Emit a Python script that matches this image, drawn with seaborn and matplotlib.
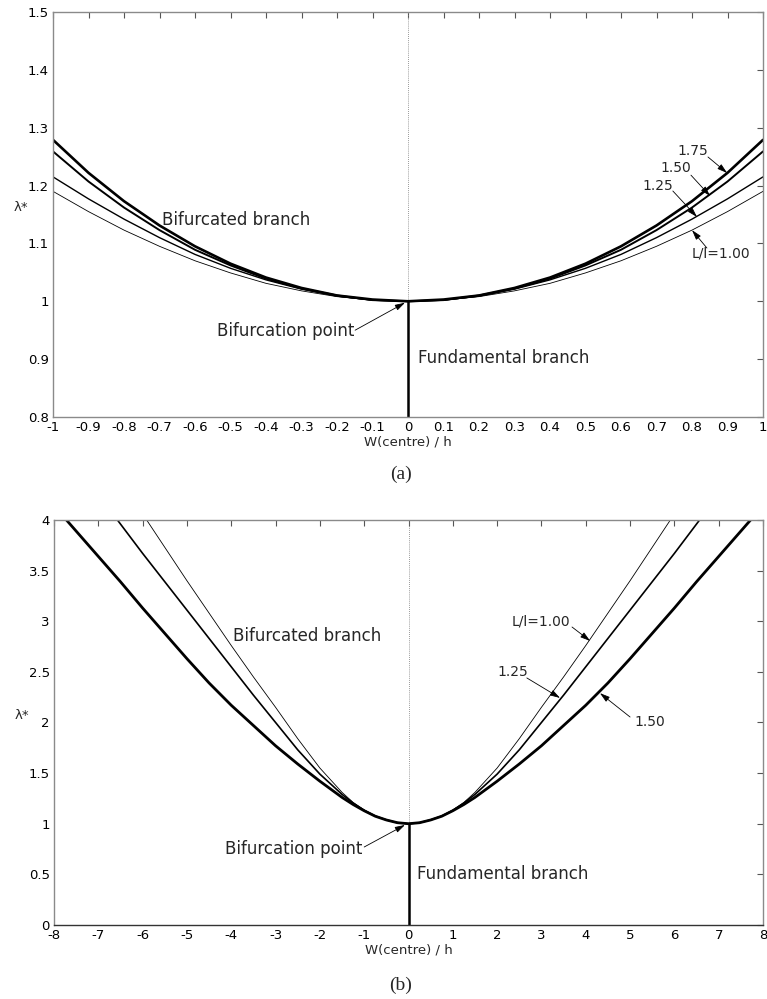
import numpy as np
import pandas as pd
import matplotlib
matplotlib.use("Agg")
import matplotlib.pyplot as plt
import seaborn as sns

sns.set_style("white")
plt.rcParams["font.family"] = ["DejaVu Sans"]

# ---- panel (a): small deflections, W/h in [0, 1] (curves are symmetric) ----
w_a = [0.0, 0.1, 0.2, 0.3, 0.4, 0.5, 0.6, 0.7, 0.8, 0.9, 1.0]
lam_a_100 = [1.0, 1.002, 1.008, 1.018, 1.031, 1.049, 1.070, 1.095, 1.123, 1.155, 1.190]
lam_a_125 = [1.0, 1.002, 1.009, 1.021, 1.037, 1.057, 1.081, 1.110, 1.142, 1.177, 1.215]
lam_a_150 = [1.0, 1.002, 1.010, 1.022, 1.039, 1.062, 1.089, 1.123, 1.162, 1.207, 1.259]
lam_a_175 = [1.0, 1.003, 1.010, 1.023, 1.041, 1.065, 1.095, 1.131, 1.173, 1.222, 1.279]

# ---- panel (b): large deflections, W/h in [0, 8] ----
w_b = [0.0, 0.25, 0.5, 0.75, 1.0, 1.25, 1.5, 2.0, 2.5, 3.0, 3.5, 4.0,
       4.5, 5.0, 5.5, 6.0, 6.5, 7.0, 7.5, 8.0]
lam_b_100 = [1.0, 1.010, 1.038, 1.076, 1.135, 1.21, 1.31, 1.55, 1.84, 2.15,
             2.45, 2.76, 3.08, 3.40, 3.73, 4.06, 4.40, 4.75, 5.10, 5.45]
lam_b_125 = [1.0, 1.010, 1.038, 1.076, 1.133, 1.205, 1.29, 1.49, 1.73, 2.00,
             2.27, 2.55, 2.83, 3.11, 3.39, 3.67, 3.96, 4.25, 4.55, 4.85]
lam_b_150 = [1.0, 1.010, 1.037, 1.074, 1.128, 1.19, 1.26, 1.42, 1.59, 1.77,
             1.97, 2.17, 2.39, 2.63, 2.88, 3.13, 3.39, 3.64, 3.89, 4.14]

ratios_a = ["1.00", "1.25", "1.50", "1.75"]
widths_a = [0.6, 1.0, 1.4, 1.9]
ratios_b = ["1.00", "1.25", "1.50"]
widths_b = [0.6, 1.2, 2.0]

xticks_a = [-1, -0.9, -0.8, -0.7, -0.6, -0.5, -0.4, -0.3, -0.2, -0.1, 0,
            0.1, 0.2, 0.3, 0.4, 0.5, 0.6, 0.7, 0.8, 0.9, 1]
yticks_a = [0.8, 0.9, 1.0, 1.1, 1.2, 1.3, 1.4, 1.5]
xticks_b = list(range(-8, 9))
yticks_b = [0, 0.5, 1, 1.5, 2, 2.5, 3, 3.5, 4]


def mirrored(w, lam):
    w = np.asarray(w)
    lam = np.asarray(lam)
    return np.concatenate([-w[::-1], w[1:]]), np.concatenate([lam[::-1], lam[1:]])


def frame(series):
    rows = []
    for ratio, (w, lam) in series.items():
        ww, ll = mirrored(w, lam)
        rows.append(pd.DataFrame({"W": ww, "lam": ll, "ratio": ratio}))
    return pd.concat(rows, ignore_index=True)


data_a = frame({"1.00": (w_a, lam_a_100), "1.25": (w_a, lam_a_125),
                "1.50": (w_a, lam_a_150), "1.75": (w_a, lam_a_175)})
data_b = frame({"1.00": (w_b, lam_b_100), "1.25": (w_b, lam_b_125),
                "1.50": (w_b, lam_b_150)})


def style_axes(ax, xticks, yticks, xlim, ylim):
    ax.set_xlim(*xlim)
    ax.set_ylim(*ylim)
    ax.set_xticks(xticks)
    ax.set_yticks(yticks)
    ax.set_xticklabels(["%g" % v for v in xticks])
    ax.set_yticklabels(["%g" % v for v in yticks])
    ax.tick_params(direction="in", length=4, width=0.8, color="#555555",
                   labelsize=9.5, top=True, right=True, pad=3,
                   labelcolor="black")
    for sp in ax.spines.values():
        sp.set_color("#8a8a8a")
        sp.set_linewidth(1.0)
    ax.set_xlabel("W(centre) / h", fontsize=9.5, labelpad=1)
    ax.set_ylabel("λ*", fontsize=9.5, rotation=0, labelpad=14)
    ax.yaxis.set_label_coords(-0.045, 0.5)


def pointer(ax, label, text_xy, start, tip, ha="center", size=10):
    ax.text(*text_xy, label, fontsize=size, ha=ha, va="center")
    ax.annotate("", xy=tip, xytext=start,
                arrowprops=dict(arrowstyle="-|>,head_length=0.6,head_width=0.18",
                                color="black", lw=0.6, shrinkA=0, shrinkB=0))


fig = plt.figure(figsize=(7.67, 9.99), dpi=100)
ax_a = fig.add_axes([0.0691, 0.5826, 0.9257, 0.4054])
ax_b = fig.add_axes([0.0704, 0.0741, 0.9244, 0.4054])

TXT = 12

# ---------------- panel (a) ----------------
ax = ax_a
ax.plot([0, 0], [1.0, 1.5], ls=(0, (1, 1.5)), lw=0.6, color="#777777")
for ratio, lw in zip(ratios_a, widths_a):
    sub = data_a[data_a["ratio"] == ratio]
    sns.lineplot(data=sub, x="W", y="lam", ax=ax, color="black", lw=lw,
                 sort=False, estimator=None)
ax.plot([0, 0], [0.8, 1.0], color="black", lw=1.8)
style_axes(ax, xticks_a, yticks_a, (-1, 1), (0.8, 1.5))

ax.text(-0.485, 1.140, "Bifurcated branch", fontsize=TXT, ha="center", va="center")
ax.text(0.028, 0.902, "Fundamental branch", fontsize=TXT, ha="left", va="center")
pointer(ax, "Bifurcation point", (-0.152, 0.9486), (-0.149, 0.950),
        (-0.0085, 0.9975), ha="right", size=TXT)
pointer(ax, "1.75", (0.803, 1.2597), (0.845, 1.2494), (0.899, 1.2217))
pointer(ax, "1.50", (0.7535, 1.2295), (0.797, 1.218), (0.851, 1.182))
pointer(ax, "1.25", (0.704, 1.200), (0.746, 1.1906), (0.814, 1.1457))
pointer(ax, "L/l=1.00", (0.80, 1.0834), (0.842, 1.092), (0.80, 1.123), ha="left")

# ---------------- panel (b) ----------------
ax = ax_b
ax.plot([0, 0], [1.0, 4.0], ls=(0, (1, 1.5)), lw=0.6, color="#777777")
for ratio, lw in zip(ratios_b, widths_b):
    sub = data_b[data_b["ratio"] == ratio]
    sns.lineplot(data=sub, x="W", y="lam", ax=ax, color="black", lw=lw,
                 sort=False, estimator=None)
ax.plot([0, 0], [0.0, 1.0], color="black", lw=1.8)
style_axes(ax, xticks_b, yticks_b, (-8, 8), (0, 4))
ax.spines["bottom"].set_color("#333333")

ax.text(-2.29, 2.854, "Bifurcated branch", fontsize=TXT, ha="center", va="center")
ax.text(0.19, 0.504, "Fundamental branch", fontsize=TXT, ha="left", va="center")
pointer(ax, "Bifurcation point", (-1.03, 0.75), (-1.0, 0.77), (-0.08, 0.988),
        ha="right", size=TXT)
pointer(ax, "L/l=1.00", (2.99, 3.0), (3.69, 2.943), (4.10, 2.805))
pointer(ax, "1.25", (2.35, 2.494), (2.67, 2.44), (3.42, 2.242))
pointer(ax, "1.50", (5.45, 2.0), (5.0, 2.054), (4.32, 2.29))

fig.text(0.5225, 0.525, "(a)", fontsize=14, family="Liberation Serif",
         ha="center", va="center")
fig.text(0.5225, 0.014, "(b)", fontsize=14, family="Liberation Serif",
         ha="center", va="center")

fig.savefig("out.png", dpi=100)
